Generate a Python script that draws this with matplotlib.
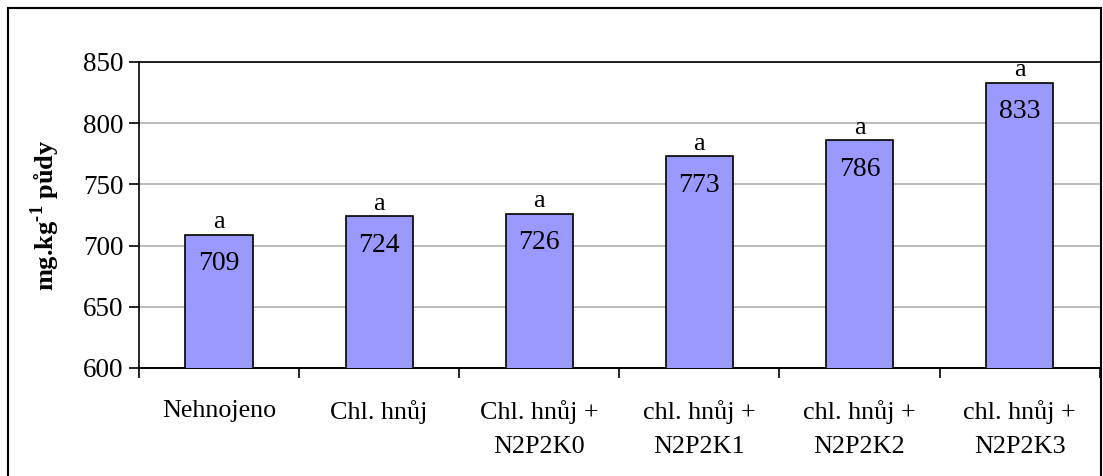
import matplotlib.pyplot as plt
from matplotlib.patches import Rectangle

# treatment names and measured content (mg/kg soil)
categories = ["Nehnojeno", "Chl. hnůj", "Chl. hnůj +\nN2P2K0", "chl. hnůj +\nN2P2K1",
              "chl. hnůj +\nN2P2K2", "chl. hnůj +\nN2P2K3"]
values = [709, 724, 726, 773, 786, 833]
groups = ["a", "a", "a", "a", "a", "a"]
yticks = [600, 650, 700, 750, 800, 850]

plt.rcParams["font.family"] = ["Liberation Serif", "DejaVu Serif"]

fig = plt.figure(figsize=(11.03, 4.76), dpi=100)
ax = fig.add_axes([0.126, 0.227, 0.871, 0.643])

x = range(len(values))
bars = ax.bar(x, values, width=0.42, color="#9999FF", edgecolor="black",
              linewidth=1.2, zorder=3)

for b, v, g in zip(bars, values, groups):
    cx = b.get_x() + b.get_width() / 2
    ax.text(cx, v - 13.5, str(v), ha="center", va="top", fontsize=20, zorder=4)
    ax.text(cx, v + 1, g, ha="center", va="bottom", fontsize=19, zorder=4,
            clip_on=False)

ax.set_xlim(-0.5, len(values) - 0.5)
ax.set_ylim(600, 850)
ax.set_yticks(yticks)
ax.tick_params(axis="y", labelsize=19.5, length=7, width=1.2, direction="out", pad=4)

# category ticks sit on group boundaries, labels centred under the bars
ax.set_xticks([i - 0.5 for i in range(len(values) + 1)])
ax.set_xticklabels([])
ax.set_xticks(list(x), minor=True)
ax.set_xticklabels(categories, minor=True, fontsize=18.8, linespacing=1.7)
ax.tick_params(axis="x", which="major", length=7, width=1.2, direction="out")
ax.tick_params(axis="x", which="minor", length=0, pad=23)

ax.yaxis.grid(True, color="#b0b0b0", linewidth=1.2, zorder=0)
ax.set_axisbelow(True)
ax.spines["right"].set_visible(False)
ax.spines["top"].set_linewidth(1.2)
ax.spines["left"].set_linewidth(1.2)
ax.spines["bottom"].set_linewidth(1.4)

ax.set_ylabel("mg.kg$^{\\mathregular{\u20101}}$ půdy", fontsize=19,
              fontweight="bold", labelpad=15)

# outer frame around the whole chart
fig.patches.append(Rectangle((8 / 1103, -0.01), 1093 / 1103, 1 - 8 / 476 + 0.01,
                             transform=fig.transFigure, fill=False,
                             edgecolor="black", linewidth=1.5))

fig.savefig("out.png", dpi=100)
